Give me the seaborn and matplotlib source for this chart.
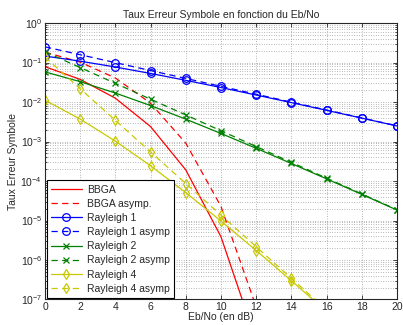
import numpy as np
import pandas as pd
import matplotlib
matplotlib.use('Agg')
import matplotlib.pyplot as plt
from matplotlib.ticker import FixedLocator, NullFormatter
import seaborn as sns

# Eb/No axis (dB)
ebno = [0, 2, 4, 6, 8, 10, 12, 14, 16, 18, 20]

# symbol error rates
bbga = [0.0786, 0.0375, 0.0125, 0.00239, 1.91e-4, 3.87e-6, 9.0e-9, 6.8e-13, 2.3e-19, 1.5e-29, 1e-45]
bbga_asymp = [0.184, 0.1025, 0.0406, 0.00933, 9.09e-4, 2.27e-5, 6.5e-8, 6.1e-12, 2.8e-18, 1.8e-28, 1.9e-44]
ray1 = [0.146, 0.1085, 0.0771, 0.053, 0.0355, 0.0233, 0.01506, 0.00967, 0.00617, 0.00392, 0.00248]
ray1_asymp = [0.25, 0.158, 0.0995, 0.0628, 0.0396, 0.025, 0.0158, 0.00995, 0.00628, 0.00396, 0.0025]
ray2 = [0.058, 0.0328, 0.0169, 0.00813, 0.00369, 0.0016, 6.74e-4, 2.78e-4, 1.135e-4, 4.59e-5, 1.84e-5]
ray2_asymp = [0.1875, 0.0746, 0.0297, 0.0118, 0.00471, 0.001875, 7.46e-4, 2.97e-4, 1.18e-4, 4.71e-5, 1.875e-5]
ray4 = [0.0111, 0.0037, 0.00102, 2.43e-4, 5.08e-5, 9.7e-6, 1.74e-6, 2.98e-7, 4.98e-8, 8.2e-9, 1.32e-9]
ray4_asymp = [0.1367, 0.0217, 0.00343, 5.44e-4, 8.63e-5, 1.367e-5, 2.17e-6, 3.43e-7, 5.44e-8, 8.6e-9, 1.37e-9]

labels = ['BBGA', 'BBGA asymp.', 'Rayleigh 1', 'Rayleigh 1 asymp',
          'Rayleigh 2', 'Rayleigh 2 asymp', 'Rayleigh 4', 'Rayleigh 4 asymp']
series = [bbga, bbga_asymp, ray1, ray1_asymp, ray2, ray2_asymp, ray4, ray4_asymp]

yticks = [1e-7, 1e-6, 1e-5, 1e-4, 1e-3, 1e-2, 1e-1, 1]

red, blue, green, yellow = '#ff0000', '#0000ff', '#008000', '#c8c800'
dash = (0, (5, 3.5))
styles = [
    (red, '-', None, 0), (red, dash, None, 0),
    (blue, '-', 'o', 5.5), (blue, dash, 'o', 5.5),
    (green, '-', 'x', 4), (green, dash, 'x', 4),
    (yellow, '-', 'd', 5.5), (yellow, dash, 'd', 5.5),
]

sns.set_style('ticks')
plt.rcParams['font.family'] = ['Liberation Sans', 'DejaVu Sans']
plt.rcParams['mathtext.fontset'] = 'custom'
plt.rcParams['mathtext.rm'] = 'Liberation Sans'

fig = plt.figure(figsize=(4.03, 3.25), dpi=100)
ax = fig.add_axes([0.1117, 0.0785, 0.8733, 0.8505])

for lab, vals, (c, ls, mk, ms) in zip(labels, series, styles):
    df = pd.DataFrame({'ebno': ebno, 'ser': vals})
    sns.lineplot(data=df, x='ebno', y='ser', ax=ax, color=c, linestyle=ls,
                 marker=mk, markersize=ms, mfc='none', mec=c, mew=0.9,
                 linewidth=0.9, label=lab)

ax.set_yscale('log')
ax.set_xlim(0, 20)
ax.set_ylim(1e-7, 1)
ax.set_xticks(range(0, 21, 2))
ax.set_yticks(yticks)
minor = [m * 10.0 ** k for k in range(-7, 0) for m in range(2, 10)]
ax.yaxis.set_minor_locator(FixedLocator(minor))
ax.yaxis.set_minor_formatter(NullFormatter())
grid_kw = dict(linestyle=(0, (1, 2.5)), color='#777777', linewidth=0.5)
ax.grid(which='major', **grid_kw)
ax.yaxis.grid(which='minor', **grid_kw)
ax.tick_params(which='both', direction='in', top=True, right=True, labelsize=7.5,
               width=0.6, length=3, pad=2)
ax.tick_params(which='minor', length=1.5)
for sp in ax.spines.values():
    sp.set_linewidth(0.8)

ax.set_title('Taux Erreur Symbole en fonction du Eb/No', fontsize=7.5, pad=4)
ax.set_xlabel('Eb/No (en dB)', fontsize=7.5, labelpad=0)
ax.set_ylabel('Taux Erreur Symbole', fontsize=7.5, labelpad=2)

leg = ax.legend(loc='lower left', fontsize=7.5, frameon=True, fancybox=False,
                edgecolor='black', framealpha=1, borderaxespad=0.15,
                handlelength=3.0, labelspacing=0.4, borderpad=0.4,
                handletextpad=0.5)
leg.get_frame().set_linewidth(0.8)

fig.savefig('out.png', dpi=100)
